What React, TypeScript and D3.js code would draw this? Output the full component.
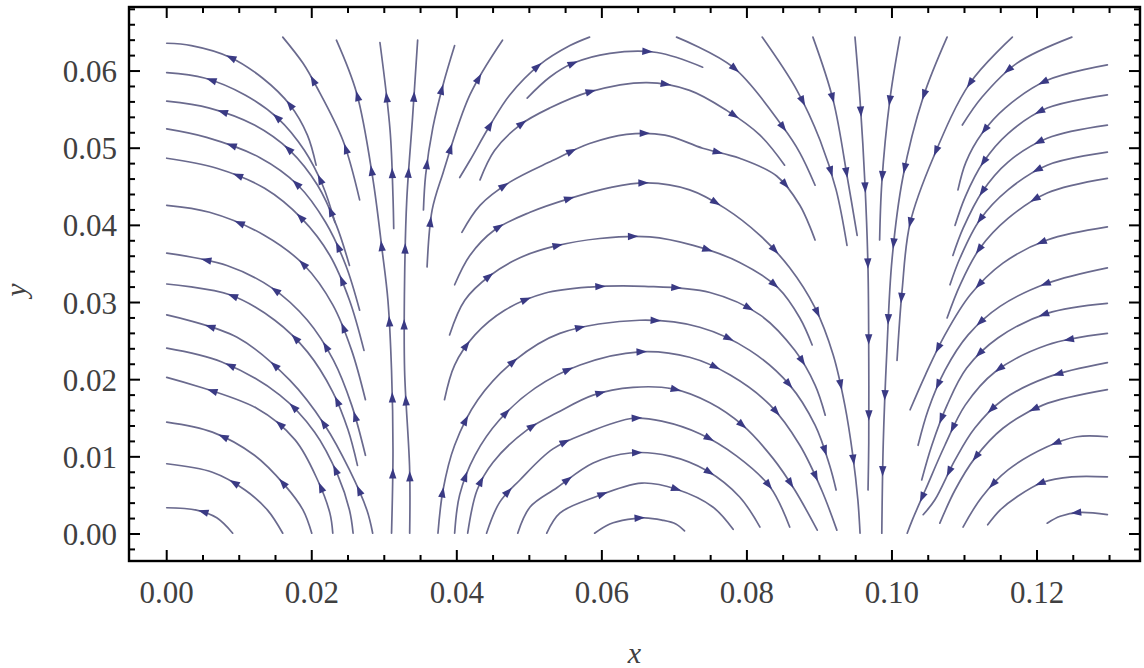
import React, { useEffect, useRef } from 'react';
import * as d3 from 'd3';

type Pt = [number, number];

// tick values and labels
const xMajor = [0, 0.02, 0.04, 0.06, 0.08, 0.1, 0.12];
const xLabels = ['0.00', '0.02', '0.04', '0.06', '0.08', '0.10', '0.12'];
const yMajor = [0, 0.01, 0.02, 0.03, 0.04, 0.05, 0.06];
const yLabels = ['0.00', '0.01', '0.02', '0.03', '0.04', '0.05', '0.06'];

// streamlines (x, y)
// left fan: written from the left edge outwards, the flow runs toward the left edge
const leftFanFromEdge: Pt[][] = [
  [[0, 0.0636], [0.0034, 0.0633], [0.0087, 0.0618], [0.0132, 0.0591], [0.017, 0.0556], [0.0194, 0.0517], [0.0206, 0.0478]],
  [[0, 0.0598], [0.0052, 0.0591], [0.0108, 0.0569], [0.0153, 0.0539], [0.019, 0.0497], [0.0215, 0.0452], [0.0232, 0.0404]],
  [[0, 0.0561], [0.0059, 0.0552], [0.0121, 0.053], [0.017, 0.0497], [0.0208, 0.0452], [0.0234, 0.04], [0.0252, 0.0348]],
  [[0, 0.0525], [0.0055, 0.0514], [0.0128, 0.0488], [0.0181, 0.0452], [0.0219, 0.0404], [0.0247, 0.0348], [0.0266, 0.029]],
  [[0, 0.0487], [0.0069, 0.0474], [0.0135, 0.0448], [0.0186, 0.0409], [0.0225, 0.0361], [0.0252, 0.0303], [0.0272, 0.0238]],
  [[0, 0.0426], [0.0059, 0.0417], [0.0135, 0.0387], [0.019, 0.0348], [0.0229, 0.0297], [0.0255, 0.0238], [0.0274, 0.0174]],
  [[0, 0.0364], [0.0083, 0.0348], [0.0145, 0.0319], [0.0194, 0.0277], [0.023, 0.0225], [0.0255, 0.0167], [0.0274, 0.0102]],
  [[0, 0.0324], [0.0087, 0.031], [0.0149, 0.0277], [0.0194, 0.0236], [0.0229, 0.0184], [0.025, 0.0135], [0.0263, 0.0089]],
  [[0, 0.0284], [0.0097, 0.0255], [0.017, 0.0199], [0.0218, 0.0141], [0.0252, 0.0083], [0.0276, 0.0031], [0.0284, 0.0001]],
  [[0, 0.0241], [0.0076, 0.0223], [0.0156, 0.018], [0.0204, 0.0132], [0.0236, 0.0076], [0.0252, 0.0031], [0.0257, 0.0001]],
  [[0, 0.0203], [0.0124, 0.0163], [0.0177, 0.0122], [0.0208, 0.007], [0.0225, 0.0027], [0.0229, 0.0001]],
  [[0, 0.0145], [0.0063, 0.0132], [0.0121, 0.0102], [0.0163, 0.0063], [0.0188, 0.0031], [0.02, 0.0001]],
  [[0, 0.0091], [0.0063, 0.008], [0.0108, 0.0057], [0.0139, 0.0031], [0.016, 0.0001]],
  [[0, 0.0034], [0.0041, 0.0031], [0.0069, 0.0021], [0.0091, 0.0001]],
];
const leftFan = leftFanFromEdge.map((l) => [...l].reverse());

// rising lines around x = 0.032
const upflow: Pt[][] = [
  [[0.0266, 0.0433], [0.0243, 0.051], [0.0207, 0.0579], [0.0188, 0.061], [0.016, 0.0644]],
  [[0.031, 0.0001], [0.0312, 0.0109], [0.031, 0.0212], [0.0305, 0.0303], [0.0297, 0.0368], [0.0284, 0.0462], [0.0262, 0.0571], [0.0234, 0.064]],
  [[0.0313, 0.0396], [0.0312, 0.0437], [0.0308, 0.0523], [0.0294, 0.0637]],
  [[0.0335, 0.0001], [0.0335, 0.0083], [0.0328, 0.0212], [0.0328, 0.0329], [0.0331, 0.0433], [0.0339, 0.054], [0.0346, 0.064]],
  [[0.0354, 0.042], [0.0357, 0.0465], [0.0367, 0.0527], [0.0381, 0.0582], [0.0397, 0.0633]],
  [[0.0359, 0.0346], [0.0366, 0.042], [0.0381, 0.0468], [0.0418, 0.0569], [0.0463, 0.064]],
  [[0.0404, 0.0462], [0.0418, 0.0484], [0.0446, 0.053], [0.0473, 0.0569], [0.0514, 0.0608], [0.0556, 0.0633], [0.0583, 0.0644]],
];

// arcs over the middle, flowing left to right
const middleArcs: Pt[][] = [
  [[0.059, 0.0001], [0.0611, 0.0013], [0.0636, 0.0019], [0.0659, 0.0021], [0.0683, 0.0018], [0.0702, 0.0013], [0.0714, 0.0004]],
  [[0.0524, 0.0001], [0.0542, 0.0027], [0.0588, 0.0047], [0.0655, 0.0066], [0.0703, 0.0058], [0.0753, 0.0035], [0.0781, 0.0006]],
  [[0.0484, 0.0001], [0.0501, 0.0035], [0.0538, 0.006], [0.0588, 0.0092], [0.0639, 0.0105], [0.0694, 0.0101], [0.0745, 0.0082], [0.079, 0.0048], [0.0818, 0.0009]],
  [[0.0441, 0.0001], [0.0459, 0.0041], [0.0487, 0.007], [0.0532, 0.011], [0.0579, 0.0131], [0.0643, 0.015], [0.0684, 0.0146], [0.0735, 0.013], [0.0786, 0.0101], [0.0832, 0.0061], [0.0859, 0.0009]],
  [[0.0415, 0.0001], [0.0428, 0.0057], [0.045, 0.0093], [0.0497, 0.0135], [0.0538, 0.0157], [0.0588, 0.018], [0.0643, 0.019], [0.0698, 0.0188], [0.0749, 0.017], [0.0794, 0.0141], [0.0836, 0.0098], [0.0866, 0.0057], [0.0897, 0.0005]],
  [[0.0397, 0.0001], [0.0404, 0.0051], [0.0425, 0.0102], [0.0459, 0.0148], [0.0508, 0.0189], [0.057, 0.0219], [0.0652, 0.0236], [0.0721, 0.0229], [0.0777, 0.0206], [0.0832, 0.0167], [0.0873, 0.0115], [0.0903, 0.0057], [0.0924, 0.0005]],
  [[0.0374, 0.0001], [0.0381, 0.0057], [0.0397, 0.0115], [0.0429, 0.0174], [0.048, 0.0225], [0.0542, 0.026], [0.0652, 0.0277], [0.0735, 0.0268], [0.0804, 0.0238], [0.0859, 0.0193], [0.0894, 0.0141], [0.0914, 0.0089], [0.0923, 0.0057]],
  [[0.0383, 0.0174], [0.0397, 0.0219], [0.0425, 0.0258], [0.0466, 0.029], [0.0521, 0.0312], [0.0583, 0.032], [0.0659, 0.0321], [0.0749, 0.0313], [0.0818, 0.0284], [0.0866, 0.0238], [0.0894, 0.0193], [0.0908, 0.0154]],
  [[0.039, 0.0258], [0.0411, 0.0303], [0.0446, 0.0335], [0.0487, 0.0358], [0.0535, 0.0373], [0.0597, 0.0383], [0.0666, 0.0385], [0.0726, 0.0374], [0.079, 0.0352], [0.0843, 0.0319], [0.0873, 0.028], [0.089, 0.0245]],
  [[0.0397, 0.0323], [0.0418, 0.0361], [0.0452, 0.0394], [0.0501, 0.0417], [0.0556, 0.0435], [0.0611, 0.0449], [0.0662, 0.0455], [0.0721, 0.0446], [0.077, 0.0422], [0.0818, 0.0387], [0.0859, 0.0345], [0.0894, 0.0293], [0.0919, 0.0232], [0.0935, 0.0167], [0.0946, 0.0102], [0.0953, 0.0044], [0.0956, 0.0001]],
  [[0.0407, 0.0391], [0.0432, 0.0426], [0.0473, 0.0456], [0.0532, 0.0484], [0.0583, 0.0506], [0.0634, 0.0518], [0.0687, 0.0517], [0.0739, 0.05], [0.079, 0.0487], [0.0841, 0.0464], [0.0873, 0.0426], [0.0894, 0.0381]],
  [[0.0432, 0.0459], [0.0452, 0.0497], [0.0487, 0.053], [0.0528, 0.0552], [0.0583, 0.0573], [0.0662, 0.0585], [0.0721, 0.0575], [0.0772, 0.0549], [0.0818, 0.0517], [0.0852, 0.0478]],
  [[0.0497, 0.0565], [0.0528, 0.0592], [0.056, 0.061], [0.0611, 0.0623], [0.0676, 0.0624], [0.0739, 0.0605]],
];

// falling lines around x = 0.097
const downflow: Pt[][] = [
  [[0.0703, 0.0644], [0.0781, 0.0605], [0.085, 0.0527], [0.0873, 0.0494], [0.0894, 0.0452]],
  [[0.0821, 0.0644], [0.0869, 0.0575], [0.0901, 0.051], [0.0923, 0.0446], [0.0938, 0.0374]],
  [[0.0891, 0.0644], [0.0919, 0.0562], [0.0939, 0.0459], [0.0952, 0.0387]],
  [[0.0949, 0.0644], [0.0956, 0.0562], [0.0963, 0.0449], [0.0967, 0.0342], [0.0968, 0.0229], [0.0968, 0.0118], [0.0967, 0.0057]],
  [[0.1011, 0.0644], [0.0997, 0.0562], [0.0986, 0.0455], [0.0983, 0.0381]],
  [[0.1076, 0.0644], [0.1043, 0.0566], [0.1015, 0.0462], [0.1, 0.0355], [0.0993, 0.0238], [0.0988, 0.0118], [0.0986, 0.0001]],
  [[0.1166, 0.0644], [0.1108, 0.0585], [0.1057, 0.0488], [0.1025, 0.0403], [0.1014, 0.0316], [0.1007, 0.0225]],
];

// right fan, flowing in from the right edge
const rightFan: Pt[][] = [
  [[0.1248, 0.0644], [0.1172, 0.061], [0.1124, 0.0566], [0.1097, 0.053]],
  [[0.1297, 0.0608], [0.1214, 0.0588], [0.1156, 0.0552], [0.1124, 0.0519], [0.1102, 0.0482], [0.1091, 0.0446]],
  [[0.1297, 0.0569], [0.1214, 0.0552], [0.116, 0.0519], [0.1126, 0.0482], [0.1101, 0.0437], [0.1087, 0.04]],
  [[0.1297, 0.053], [0.1214, 0.0513], [0.116, 0.0482], [0.1124, 0.0443], [0.1098, 0.0396], [0.1084, 0.0361]],
  [[0.1297, 0.0495], [0.1214, 0.0478], [0.116, 0.0446], [0.1121, 0.0407], [0.1094, 0.0358], [0.108, 0.0323]],
  [[0.1297, 0.0461], [0.1214, 0.0442], [0.116, 0.0409], [0.1121, 0.037], [0.1094, 0.0323], [0.1076, 0.028]],
  [[0.1297, 0.0398], [0.1214, 0.0381], [0.1153, 0.0351], [0.1108, 0.031], [0.1073, 0.0258], [0.1046, 0.0206], [0.1025, 0.0161]],
  [[0.1297, 0.0345], [0.1214, 0.0325], [0.1149, 0.0295], [0.1105, 0.0258], [0.1073, 0.0212], [0.105, 0.0161], [0.1036, 0.0115]],
  [[0.1297, 0.0299], [0.1214, 0.0286], [0.1146, 0.0254], [0.1103, 0.0215], [0.1076, 0.0167], [0.1055, 0.0115], [0.1041, 0.007]],
  [[0.1297, 0.026], [0.1214, 0.0245], [0.1142, 0.021], [0.1101, 0.0167], [0.1073, 0.0115], [0.1046, 0.0057], [0.1028, 0.0018], [0.1021, 0.0001]],
  [[0.1297, 0.0222], [0.1214, 0.0203], [0.1153, 0.0174], [0.1114, 0.0137], [0.1087, 0.0096], [0.1059, 0.0044], [0.1043, 0.0025]],
  [[0.1297, 0.0187], [0.1208, 0.0167], [0.1153, 0.0137], [0.1114, 0.0098], [0.1087, 0.0057], [0.1066, 0.0014]],
  [[0.1297, 0.0126], [0.1255, 0.0126], [0.1214, 0.0113], [0.116, 0.0083], [0.1124, 0.0048], [0.1098, 0.0009]],
  [[0.1297, 0.0074], [0.1248, 0.0074], [0.1208, 0.0067], [0.1172, 0.0048], [0.1149, 0.0031], [0.1132, 0.0012]],
  [[0.1297, 0.0025], [0.1259, 0.0028], [0.1232, 0.0023], [0.1214, 0.0014]],
];

const streamlines = [...leftFan, ...upflow, ...middleArcs, ...downflow, ...rightFan];

const W = 1144;
const H = 668;
const lineColor = '#6a6a8e';
const arrowColor = '#3a3a84';
const labelColor = '#404040';

function App() {
  const ref = useRef<SVGSVGElement>(null);

  useEffect(() => {
    const svg = d3.select(ref.current);
    svg.selectAll('*').remove();

    const x = d3.scaleLinear().domain([-0.0052, 0.1342]).range([129, 1140]);
    const y = d3.scaleLinear().domain([-0.0035, 0.0683]).range([561, 7]);

    svg.append('rect').attr('width', W).attr('height', H).attr('fill', '#ffffff');

    const line = d3.line<Pt>()
      .x((d) => x(d[0]))
      .y((d) => y(d[1]))
      .curve(d3.curveCatmullRom.alpha(0.5));

    const g = svg.append('g');
    const paths = g.selectAll('path.stream')
      .data(streamlines)
      .enter()
      .append('path')
      .attr('class', 'stream')
      .attr('d', (d) => line(d))
      .attr('fill', 'none')
      .attr('stroke', lineColor)
      .attr('stroke-width', 1.7)
      .attr('stroke-linecap', 'round');

    // arrowheads spaced along each line
    const arrows = svg.append('g');
    const spacing = 76;
    paths.each(function () {
      const p = this as SVGPathElement;
      const len = p.getTotalLength();
      const n = Math.max(1, Math.floor(len / spacing));
      const start = (len - (n - 1) * spacing) / 2;
      for (let i = 0; i < n; i++) {
        const s = start + i * spacing;
        const a = p.getPointAtLength(Math.max(0, s - 2));
        const b = p.getPointAtLength(Math.min(len, s + 2));
        const m = p.getPointAtLength(s);
        const ang = (Math.atan2(b.y - a.y, b.x - a.x) * 180) / Math.PI;
        arrows.append('path')
          .attr('d', 'M5.5,0 L-5,-3.7 L-5,3.7 Z')
          .attr('transform', `translate(${m.x},${m.y}) rotate(${ang})`)
          .attr('fill', arrowColor);
      }
    });

    // frame
    const [x0, x1] = x.range();
    const [y0, y1] = y.range();
    svg.append('rect')
      .attr('x', x0).attr('y', y1)
      .attr('width', x1 - x0).attr('height', y0 - y1)
      .attr('fill', 'none').attr('stroke', '#000').attr('stroke-width', 2.4);

    const ticks = svg.append('g').attr('stroke', '#000').attr('stroke-width', 2);
    const xMinor = d3.range(0, 0.1301, 0.005);
    const yMinor = d3.range(-0.002, 0.0681, 0.002);
    const isMajor = (v: number, list: number[]) => list.some((m) => Math.abs(m - v) < 1e-9);

    xMinor.forEach((v) => {
      const len = isMajor(v, xMajor) ? 11 : 6;
      ticks.append('line').attr('x1', x(v)).attr('x2', x(v)).attr('y1', y0).attr('y2', y0 - len);
      ticks.append('line').attr('x1', x(v)).attr('x2', x(v)).attr('y1', y1).attr('y2', y1 + len);
    });
    yMinor.forEach((v) => {
      const len = isMajor(v, yMajor) ? 11 : 6;
      ticks.append('line').attr('x1', x0).attr('x2', x0 + len).attr('y1', y(v)).attr('y2', y(v));
      ticks.append('line').attr('x1', x1).attr('x2', x1 - len).attr('y1', y(v)).attr('y2', y(v));
    });

    const font = '"Liberation Serif", "Times New Roman", serif';
    svg.append('g').selectAll('text')
      .data(xMajor)
      .enter()
      .append('text')
      .attr('x', (d) => x(d))
      .attr('y', 603)
      .attr('text-anchor', 'middle')
      .attr('font-family', font)
      .attr('font-size', 31)
      .attr('fill', labelColor)
      .text((d, i) => xLabels[i]);

    svg.append('g').selectAll('text')
      .data(yMajor)
      .enter()
      .append('text')
      .attr('x', 117)
      .attr('y', (d) => y(d) + 11)
      .attr('text-anchor', 'end')
      .attr('font-family', font)
      .attr('font-size', 31)
      .attr('fill', labelColor)
      .text((d, i) => yLabels[i]);

    svg.append('text')
      .attr('x', (x0 + x1) / 2)
      .attr('y', 663)
      .attr('text-anchor', 'middle')
      .attr('font-family', font)
      .attr('font-style', 'italic')
      .attr('font-size', 30)
      .attr('fill', labelColor)
      .text('x');

    svg.append('text')
      .attr('transform', `translate(26,${(y0 + y1) / 2 + 6}) rotate(-90)`)
      .attr('text-anchor', 'middle')
      .attr('font-family', font)
      .attr('font-style', 'italic')
      .attr('font-size', 30)
      .attr('fill', labelColor)
      .text('y');
  }, []);

  return (
    <svg
      ref={ref}
      width={W}
      height={H}
      style={{ position: 'absolute', left: 0, top: 0, display: 'block' }}
    />
  );
}

export default App;
